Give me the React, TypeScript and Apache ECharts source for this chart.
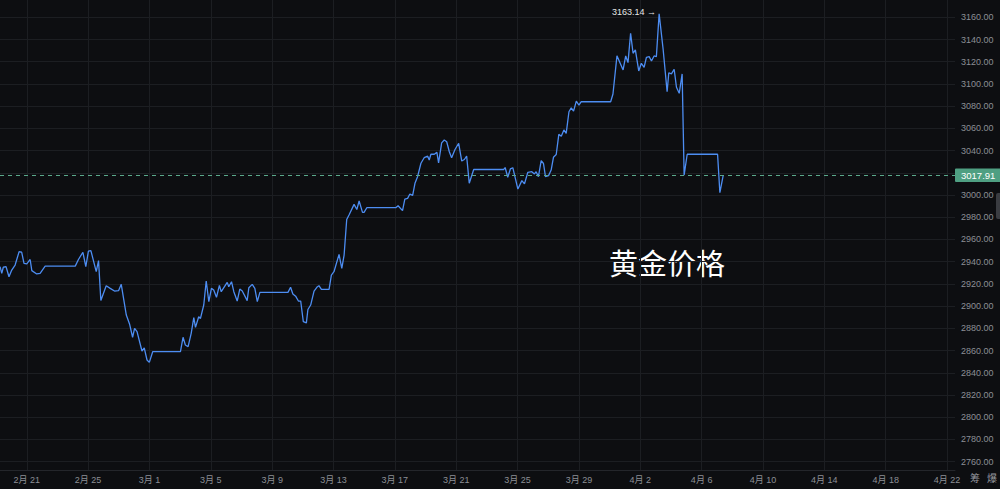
import React, { useEffect, useRef } from "react";
import * as echarts from "echarts";

// time as days since 2月21 (fractional), and gold price
const DAYS: number[] = [
  -1.74, -1.63, -1.53, -1.35, -1.16, -0.98, -0.76, -0.5, -0.33, -0.18, 0, 0.22, 0.33, 0.65, 0.87, 1.2,
  3.16, 3.37, 3.66, 3.85, 4.02, 4.18, 4.53, 4.68, 4.83, 5.18, 5.44, 5.72, 5.99, 6.16, 6.49, 6.7, 6.9,
  7.03, 7.19, 7.51, 7.66, 7.84, 7.99, 8.21, 10.02, 10.19, 10.34, 10.52, 10.72, 10.89, 11.0, 11.21,
  11.32, 11.54, 11.7, 11.87, 12.04, 12.19, 12.37, 12.56, 12.68, 12.89, 13.07, 13.17, 13.35, 13.5,
  13.72, 13.89, 14.05, 14.37, 14.48, 14.7, 14.87, 15.03, 15.2, 17.03, 17.2, 17.35, 17.53, 17.71,
  17.86, 18.03, 18.23, 18.33, 18.51, 18.73, 18.95, 19.05, 19.21, 19.71, 19.86, 20.03, 20.36, 20.54,
  20.69, 20.86, 21.01, 21.34, 21.52, 21.67, 21.89, 21.99, 22.17, 24.06, 24.21, 24.5, 24.65, 24.83,
  24.98, 25.16, 25.31, 25.48, 25.7, 25.91, 26.14, 26.24, 26.35, 26.57, 26.74, 26.85, 27.05, 27.22,
  27.38, 27.55, 27.7, 27.92, 28.16, 28.36, 28.53, 28.68, 28.85, 29.14, 31.1, 31.19, 31.36, 31.53,
  31.69, 32.02, 32.28, 32.45, 32.67, 32.93, 33.1, 33.21, 33.36, 33.54, 33.69, 33.82, 34.02, 34.19,
  34.34, 34.52, 34.69, 34.85, 35.02, 35.17, 35.35, 35.5, 35.65, 35.83, 36.0, 36.15, 38.07, 38.22,
  38.48, 38.88, 39.05, 39.2, 39.37, 39.53, 39.68, 39.9, 40.07, 40.25, 40.4, 40.58, 40.73, 40.9,
  41.05, 41.23, 41.49, 41.75, 41.86, 42.03, 42.21, 42.36, 42.54, 42.73, 42.86, 43.06, 45.04, 45.19,
  45.41,
];

const PRICES: number[] = [
  2935.5, 2929.5, 2935, 2935.5, 2926.5, 2932.5, 2937, 2949, 2948.5, 2938.5, 2938, 2942, 2932, 2929,
  2929.5, 2936, 2936, 2942, 2948.5, 2935.5, 2949.5, 2950, 2931, 2941, 2905, 2918.4, 2916, 2913.6,
  2914, 2919.6, 2892, 2884, 2872, 2880, 2877, 2859.6, 2862.5, 2851.5, 2849.4, 2859, 2859, 2872,
  2865, 2863.5, 2875.5, 2889.6, 2880.9, 2890.5, 2888.7, 2901, 2922.6, 2904, 2916, 2914.5, 2908,
  2918.7, 2913, 2917.5, 2921.4, 2917.5, 2922, 2913, 2904.6, 2915.4, 2913.6, 2905, 2916.6, 2919.6,
  2916, 2904, 2912.4, 2912.4, 2917, 2911, 2909, 2904.6, 2904.6, 2886, 2885, 2897, 2901, 2913.6,
  2917.5, 2918.4, 2915, 2915, 2928, 2931, 2946.6, 2934, 2946, 2978, 2982, 2991.6, 2987, 2994.6,
  2984.4, 2984.4, 2988.6, 2988.6, 2990.4, 2986, 2996.4, 2997, 3000.9, 2999.7, 3010.6, 3016.5,
  3028.6, 3033.6, 3035, 3031.5, 3036.7, 3036.7, 3038.4, 3029, 3047, 3049.5, 3048, 3039, 3033.6,
  3041, 3046.6, 3030.6, 3032, 3035, 3010.6, 3023, 3023, 3024.8, 3016, 3023.5, 3024.6, 3005.4, 3013,
  3010, 3020.5, 3021, 3019, 3021, 3016.5, 3031, 3028.4, 3016.5, 3017.5, 3022.5, 3034, 3036.5,
  3054.6, 3053, 3058.6, 3055.5, 3075, 3078.5, 3075.5, 3084.6, 3081, 3084, 3084, 3091, 3125.3,
  3112.6, 3125.2, 3119.2, 3145.6, 3127.6, 3130.6, 3111.7, 3118.6, 3115, 3124, 3124.6, 3120.7,
  3125.2, 3124.6, 3163.14, 3131.2, 3093, 3110.1, 3109, 3113.2, 3097, 3091.6, 3109, 3018, 3036.7,
  3036.7, 3002.1, 3017.91,
];

const X_TICK_DAYS: number[] = [0, 4, 8, 12, 16, 20, 24, 28, 32, 36, 40, 44, 48, 52, 56, 60];
const Y_TICKS: number[] = [
  2760, 2780, 2800, 2820, 2840, 2860, 2880, 2900, 2920, 2940, 2960, 2980, 3000, 3020, 3040, 3060,
  3080, 3100, 3120, 3140, 3160,
];
const LAST_PRICE = 3017.91;
const TITLE = "黄金价格";
const CORNER_TEXT = ["筹", "爆"];
const BASE_DATE_UTC = Date.UTC(2025, 1, 21);

const FONT = '"Liberation Sans", "Noto Sans CJK SC", sans-serif';
const LAST_LINE_STYLE = { color: "#5aa98b", type: [4, 4], width: 1, opacity: 1 };

function dayLabel(d: number): string {
  const dt = new Date(BASE_DATE_UTC + Math.round(d) * 86400000);
  return `${dt.getUTCMonth() + 1}月 ${dt.getUTCDate()}`;
}

export default function App() {
  const ref = useRef<HTMLDivElement>(null);

  useEffect(() => {
    document.body.style.margin = "0";
    document.body.style.background = "#0d0e11";
    const chart = echarts.init(ref.current!, undefined, { renderer: "svg" });

    const data = DAYS.map((d, i) => [d, PRICES[i]]);
    let peakIdx = 0;
    PRICES.forEach((p, i) => {
      if (p > PRICES[peakIdx]) peakIdx = i;
    });
    // the last-price tag hides the tick label it covers
    const yLabelValues = Y_TICKS.filter((v) => Math.abs(v - LAST_PRICE) > 8);

    chart.setOption({
      animation: false,
      backgroundColor: "#0d0e11",
      grid: { left: 0, right: 45, top: 0, bottom: 19, containLabel: false },
      xAxis: {
        type: "value",
        min: -1.745,
        max: 60.52,
        axisLine: { show: true, lineStyle: { color: "#24262b", width: 1 } },
        axisTick: { show: false, customValues: X_TICK_DAYS },
        axisLabel: {
          customValues: X_TICK_DAYS,
          formatter: (v: number) => dayLabel(v),
          color: "#8c8f95",
          fontSize: 9,
          fontFamily: FONT,
          margin: 5,
        },
        splitLine: { show: true, lineStyle: { color: "#1c1e22", width: 1 } },
      },
      yAxis: {
        type: "value",
        position: "right",
        min: 2752.5,
        max: 3175.57,
        axisLine: { show: false },
        axisTick: { show: false, customValues: Y_TICKS },
        axisLabel: {
          customValues: yLabelValues,
          formatter: (v: number) => v.toFixed(2),
          color: "#8c8f95",
          fontSize: 9,
          fontFamily: FONT,
          margin: 6,
        },
        splitLine: { show: true, lineStyle: { color: "#1c1e22", width: 1 } },
      },
      series: [
        {
          type: "line",
          data,
          showSymbol: false,
          symbol: "none",
          lineStyle: { color: "#4d8df2", width: 1.3 },
          markPoint: {
            symbol: "circle",
            symbolSize: 0,
            silent: true,
            data: [
              {
                coord: [DAYS[peakIdx], PRICES[peakIdx]],
                value: PRICES[peakIdx],
              },
            ],
            label: {
              show: true,
              position: "left",
              distance: 3,
              formatter: (p: any) => `${Number(p.value).toFixed(2)} →`,
              color: "#e6e6e6",
              fontSize: 9,
              fontFamily: FONT,
              offset: [0, -2],
            },
          },
          markLine: {
            silent: true,
            symbol: ["none", "none"],
            lineStyle: LAST_LINE_STYLE,
            emphasis: { disabled: true },
            data: [{ yAxis: LAST_PRICE, lineStyle: LAST_LINE_STYLE }],
            label: {
              show: true,
              position: "end",
              distance: 0,
              formatter: () => LAST_PRICE.toFixed(2),
              color: "#ffffff",
              fontSize: 9.5,
              fontFamily: FONT,
              backgroundColor: "#4f9f82",
              padding: [2, 6, 2, 6],
              borderRadius: 1,
            },
          },
        },
      ],
      graphic: [
        {
          type: "text",
          left: 609,
          top: 247,
          style: {
            text: TITLE,
            fill: "#ffffff",
            fontSize: 29,
            fontFamily: '"Noto Sans CJK SC", sans-serif',
          },
        },
        {
          type: "text",
          left: 970,
          top: 472,
          style: {
            text: CORNER_TEXT[0],
            fill: "#9a9ca1",
            fontSize: 10,
            fontFamily: '"Noto Sans CJK SC", sans-serif',
          },
        },
        {
          type: "text",
          left: 987,
          top: 472,
          style: {
            text: CORNER_TEXT[1],
            fill: "#9a9ca1",
            fontSize: 10,
            fontFamily: '"Noto Sans CJK SC", sans-serif',
          },
        },
        {
          type: "rect",
          shape: { x: 996, y: 193, width: 6, height: 26, r: 2 },
          style: { fill: "#3a3c41" },
        },
      ],
    });

    return () => {
      chart.dispose();
    };
  }, []);

  return (
    <div
      ref={ref}
      style={{ position: "fixed", left: 0, top: 0, width: "1000px", height: "489px" }}
    />
  );
}
